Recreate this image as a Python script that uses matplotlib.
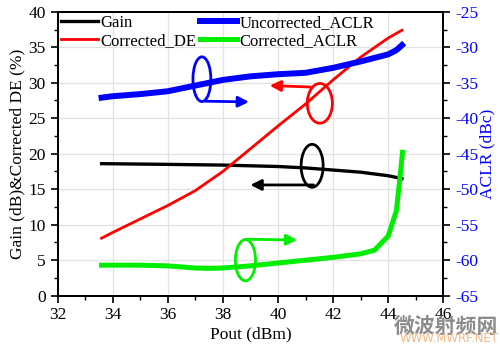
import matplotlib.pyplot as plt
from matplotlib.patches import Ellipse
from matplotlib.ticker import MultipleLocator

plt.rcParams['font.family'] = ['Liberation Serif', 'DejaVu Serif']
plt.rcParams['axes.unicode_minus'] = False

# Pout (dBm) and the four series
pout_gain = [33.6, 36, 38, 40, 41, 42, 43, 44, 44.5]
gain = [18.6, 18.5, 18.4, 18.2, 18.0, 17.7, 17.4, 16.9, 16.5]

pout_de = [33.6, 34, 35, 36, 37, 38, 39, 40, 41, 42, 43, 44, 44.5]
corrected_de = [8.1, 8.9, 10.8, 12.7, 14.8, 17.5, 20.7, 23.9, 27.0, 30.4, 33.6, 36.3, 37.4]

pout_unc = [33.6, 34, 35, 36, 37, 38, 39, 40, 41, 42, 43, 44, 44.3, 44.5]
uncorrected_aclr = [-37.1, -36.9, -36.6, -36.2, -35.4, -34.6, -34.1, -33.8, -33.6,
                    -32.9, -32.0, -31.0, -30.4, -29.7]

pout_cor = [33.6, 35, 36, 37, 37.5, 38, 39, 40, 41, 42, 43, 43.5, 44, 44.3, 44.45, 44.52]
corrected_aclr = [-60.7, -60.7, -60.8, -61.1, -61.15, -61.1, -60.8, -60.4, -60.0,
                  -59.6, -59.1, -58.6, -56.6, -53.0, -47.5, -44.8]

fig = plt.figure(figsize=(5, 3.46), dpi=100)
ax = fig.add_axes([0.115, 0.1454, 0.7716, 0.8206])
ax2 = ax.twinx()

l1, = ax.plot(pout_gain, gain, color='black', lw=2.4, label='Gain')
l2, = ax.plot(pout_de, corrected_de, color='red', lw=2, label='Corrected_DE')
l3, = ax2.plot(pout_unc, uncorrected_aclr, color='blue', lw=4.3, label='Uncorrected_ACLR')
l4, = ax2.plot(pout_cor, corrected_aclr, color='#00ee00', lw=3.6, label='Corrected_ACLR')

ax.set_xlim(32, 46)
ax.set_ylim(0, 40)
ax2.set_ylim(-65, -25)

ax.xaxis.set_major_locator(MultipleLocator(2))
ax.xaxis.set_minor_locator(MultipleLocator(1))
ax.yaxis.set_major_locator(MultipleLocator(5))
ax.yaxis.set_minor_locator(MultipleLocator(2.5))
ax2.yaxis.set_major_locator(MultipleLocator(5))
ax2.yaxis.set_minor_locator(MultipleLocator(2.5))

ax.grid(True, which='major', color='#e2e2e2', lw=0.9)
ax.set_axisbelow(True)

for a in (ax, ax2):
    for s in a.spines.values():
        s.set_linewidth(1.4)
ax.tick_params(which='major', length=5, width=1.2, labelsize=12.5, direction='out')
ax.tick_params(which='minor', length=3, width=1.0, direction='out')
ax2.tick_params(which='major', length=5, width=1.2, labelsize=12.5, labelcolor='blue',
                direction='out')
ax2.tick_params(which='minor', length=3, width=1.0, direction='out')

ax.set_xlabel('Pout (dBm)', fontsize=12.5, labelpad=2)
ax.set_ylabel('Gain (dB)&Corrected DE (%)', fontsize=12.5, labelpad=2)
ax2.set_ylabel('ACLR (dBc)', fontsize=12.5, color='blue', labelpad=1)

ax2.legend(handles=[l1, l2, l3, l4], loc='upper left', ncol=2, frameon=False,
           fontsize=12, handlelength=2.2, handletextpad=0.15, columnspacing=0.25,
           labelspacing=0.12, borderaxespad=0.0, borderpad=0.2,
           bbox_to_anchor=(0.0, 1.0))

# ellipses with arrows pointing to the axis each group belongs to
marks = [
    ('blue', (37.24, 30.5), 0.65, 6.3, (37.36, 27.4), (38.95, 27.3)),
    ('red', (41.52, 27.1), 0.91, 5.6, (41.18, 29.4), (39.7, 29.6)),
    ('black', (41.24, 18.3), 0.8, 6.05, (41.29, 15.6), (39.0, 15.6)),
    ('#00ee00', (38.82, 5.0), 0.73, 5.8, (38.82, 7.95), (40.7, 7.85)),
]
for col, c, w, h, start, tip in marks:
    ax2.add_patch(Ellipse((c[0], c[1] - 65), w, h, fill=False, edgecolor=col, lw=2,
                          zorder=5))
    ax2.annotate('', xy=(tip[0], tip[1] - 65), xytext=(start[0], start[1] - 65),
                 arrowprops=dict(arrowstyle='-|>', color=col, lw=2, mutation_scale=16,
                                 shrinkA=0, shrinkB=0), zorder=5)

# watermark
fig.text(0.997, 0.027, '微波射频网', fontsize=15, color='#8c8c8c', ha='right',
         va='bottom', family=['Noto Sans CJK SC', 'DejaVu Sans'], fontweight='bold')
fig.text(0.997, 0.002, 'WWW.MWRF.NET', fontsize=8.5, color='#f2b880', ha='right',
         va='bottom', family=['DejaVu Sans'])

fig.savefig('out.png', dpi=100)
